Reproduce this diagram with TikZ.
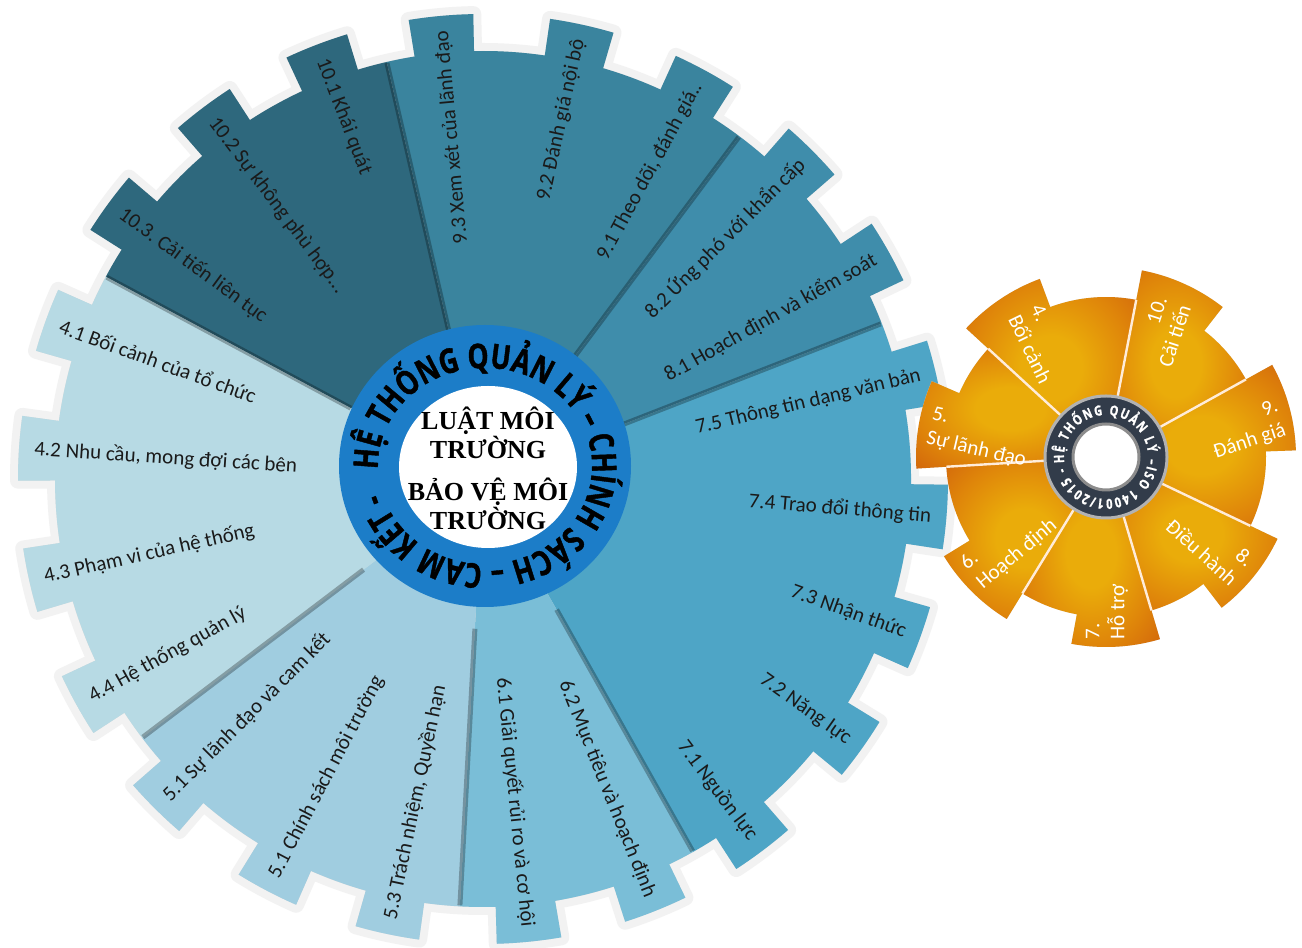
\documentclass[tikz,border=0pt]{standalone}
\usepackage{fontspec}
\setmainfont{Carlito}
\newfontfamily\lawfont{Liberation Serif}
\newfontfamily\ringfont{Open Sans}[FakeStretch=0.78, FakeBold=1.2]
\usetikzlibrary{calc,decorations.text}
\frenchspacing

\definecolor{cten}{HTML}{2E687D}
\definecolor{cnine}{HTML}{3A849E}
\definecolor{ceight}{HTML}{3F8DAB}
\definecolor{cseven}{HTML}{4EA5C6}
\definecolor{csix}{HTML}{7ABED7}
\definecolor{cfive}{HTML}{A0CDE0}
\definecolor{cfour}{HTML}{B7DAE4}
\definecolor{ringblue}{HTML}{1C7DC8}
\definecolor{orangedark}{HTML}{CF5F0C}
\definecolor{orangemid}{HTML}{DF850A}
\definecolor{orangelight}{HTML}{EAAC0A}
\definecolor{ringdark}{HTML}{323C4A}
\definecolor{labeltext}{HTML}{1A1A1A}

\pgfdeclareradialshading{goldglow}{\pgfpoint{0bp}{0bp}}{color(0bp)=(orangelight); color(9bp)=(orangelight); color(24bp)=(orangemid); color(38bp)=(orangedark); color(50bp)=(orangedark)}

\def\bigteeth{77.7,61.5,95.2,44.9,29.3,13.3,-4.7,-20,-35.5,-53,-68.2,-84.3,-101.9,-117.7,-134.8,-150.9,-167.4,176.2,160,143.6,127,111}

\begin{document}
\begin{tikzpicture}[x=0.5pt, y=0.5pt,
    item/.style={font=\fontsize{10.5}{12}\selectfont, text=labeltext, inner sep=0pt},
    orangelbl/.style={font=\fontsize{10.5}{12.5}\selectfont, text=white, inner sep=0pt},
    rim/.style={black, opacity=.28, line width=2.5},
    halo/.style={black!5, line width=8, line join=round}]

\useasboundingbox (0,0) rectangle (1302,948);
\fill[white] (0,0) rectangle (1302,948);

\coordinate (G) at (483,469);
\coordinate (C) at (485,482);
\coordinate (S) at (1106,491);

% shadow of the big gear
\begin{scope}[shift={(4,-6)}]
  \draw[halo] (G) circle[radius=428];
  \foreach \ang in \bigteeth
    \draw[halo] ($(G)+(\ang+4:426)$) -- ($(G)+(\ang+4:465)$) arc[start angle=\ang+4, end angle=\ang-4, radius=465] -- ($(G)+(\ang-4:426)$);
  \fill[black!14] (G) circle[radius=428];
  \foreach \ang in \bigteeth
    \fill[black!14] ($(G)+(\ang+4:426)$) -- ($(G)+(\ang+4:465)$) arc[start angle=\ang+4, end angle=\ang-4, radius=465] -- ($(G)+(\ang-4:426)$) -- cycle;
\end{scope}

% clause groups
\foreach \a/\b/\col in {151.8/103/cten, 103/53.2/cnine, 53.2/21.3/ceight, 21.3/-60.6/cseven, -60.6/-93.1/csix, -93.1/-142.8/cfive, -142.8/-208.2/cfour}
  \fill[\col] (G) -- ($(G)+(\a:428)$) arc[start angle=\a, end angle=\b, radius=428] -- cycle;

% teeth
\foreach \ang/\col in {95.2/cnine, 77.7/cnine, 61.5/cnine, 44.9/ceight, 29.3/ceight,
    13.3/cseven, -4.7/cseven, -20/cseven, -35.5/cseven, -53/cseven, -68.2/csix, -84.3/csix,
    -101.9/cfive, -117.7/cfive, -134.8/cfive, -150.9/cfour, -167.4/cfour, 176.2/cfour, 160/cfour,
    143.6/cten, 127/cten, 111/cten}
  \fill[\col] ($(G)+(\ang+4:426)$) -- ($(G)+(\ang+4:465)$) arc[start angle=\ang+4, end angle=\ang-4, radius=465] -- ($(G)+(\ang-4:426)$) -- cycle;

\foreach \b in {151.8,103,53.2,21.3,-60.6,-93.1,-142.8}
  \draw[rim] ($(G)+(\b:150)$) -- ($(G)+(\b:427)$);

% labels, right half read outward
\foreach \ang/\txt [count=\i] in {95.2/{9.3 Xem xét của lãnh đạo}, 77.7/{9.2 Đánh giá nội bộ},
    61.5/{9.1 Theo dõi, đánh giá..}, 44.9/{8.2 Ứng phó với khẩn cấp}, 29.3/{8.1 Hoạch định và kiểm soát},
    13.3/{7.5 Thông tin dạng văn bản}, -4.7/{7.4 Trao đổi thông tin}, -20/{7.3 Nhận thức},
    -35.5/{7.2 Năng lực}, -53/{7.1 Nguồn lực}, -68.2/{6.2 Mục tiêu và hoạch định},
    -84.3/{6.1 Giải quyết rủi ro và cơ hội}}
  \node[item, anchor=east, rotate=\ang] (out\i) at ($(G)+(\ang:450)$) {\txt};

% labels, left half read inward
\foreach \ang/\txt [count=\i] in {-101.9/{5.3 Trách nhiệm, Quyền hạn}, -117.7/{5.1 Chính sách môi trường},
    -134.8/{5.1 Sự lãnh đạo và cam kết}, -150.9/{4.4 Hệ thống quản lý}, -167.4/{4.3 Phạm vi của hệ thống},
    176.2/{4.2 Nhu cầu, mong đợi các bên}, 160/{4.1 Bối cảnh của tổ chức},
    143.6/{10.3. Cải tiến liên tục}, 127/{10.2 Sự không phù hợp...}, 111/{10.1 Khái quát}}
  \node[item, anchor=west, rotate=\ang+180] (in\i) at ($(G)+(\ang:450)$) {\txt};

% centre ring
\fill[ringblue] (C) ellipse[x radius=146, y radius=141];
\fill[white] ($(C)+(3,-1)$) ellipse[x radius=89, y radius=81];
\path[decorate, decoration={text along path, text align={fit to path},
    text={|\ringfont\bfseries\fontsize{17}{17}\selectfont|HỆ THỐNG QUẢN LÝ – CHÍNH SÁCH – CAM KẾT -}}]
  ($(C)+(182:107 and 98)$) arc[start angle=182, end angle=-164, x radius=107, y radius=98];

\node[align=center, inner sep=0pt, font=\lawfont\bfseries\fontsize{13}{13.5}\selectfont] (lawa) at (488,515) {LUẬT MÔI\\TRƯỜNG};
\node[align=center, inner sep=0pt, font=\lawfont\bfseries\fontsize{13}{13.5}\selectfont] (lawb) at (488,444) {BẢO VỆ MÔI\\TRƯỜNG};

% small orange gear
\begin{scope}[shift={(3,-5)}]
  \foreach \a/\b in {137.4/79.1, 79.1/29, 29/-25.5, -25.5/-73.5, -73.5/-121.5, -121.5/-176.5, 183.5/137.4}
    \fill[black!14] (S) -- ($(S)+(\a:190)$) arc[start angle=\a, end angle=\a-27, radius=190] -- ($(S)+(\a-27:160)$) arc[start angle=\a-27, end angle=\b, radius=160] -- cycle;
\end{scope}
\foreach \a/\b in {137.4/79.1, 79.1/29, 29/-25.5, -25.5/-73.5, -73.5/-121.5, -121.5/-176.5, 183.5/137.4}
  \shade[shading=goldglow] (S) -- ($(S)+(\a:190)$) arc[start angle=\a, end angle=\a-27, radius=190] -- ($(S)+(\a-27:160)$) arc[start angle=\a-27, end angle=\b, radius=160] -- cycle;
\foreach \a in {137.4,79.1,29,-25.5,-73.5,-121.5,-176.5}
  \draw[orange!15!white, line width=1.2] (S) -- ($(S)+(\a:160)$);

\fill[ringdark] (S) circle[radius=61];
\draw[black!30, line width=1.5] (S) circle[radius=61];
\fill[white] (S) circle[radius=33];
\draw[black!45, line width=1.5] (S) circle[radius=33];
\path[decorate, decoration={text along path, text align={fit to path}, text color=white,
    text={|\ringfont\bfseries\fontsize{7}{7}\selectfont|HỆ THỐNG QUẢN LÝ –ISO 14001/2015 -}}]
  ($(S)+(188:42)$) arc[start angle=188, end angle=-165, radius=42];

\node[orangelbl, align=left, rotate=-64] (olbl4) at (1041,604) {4.\\Bối cảnh};
\node[orangelbl, align=right, rotate=72] (olbl10) at (1163,616) {10.\\Cải tiến};
\node[orangelbl, align=right, rotate=18] (olbl9) at (1246,518) {9.\\Đánh giá};
\node[orangelbl, align=left, rotate=-13] (olbl5) at (979,510) {5.\\Sự lãnh đạo};
\node[orangelbl, align=left, rotate=40] (olbl6) at (1009,403) {6.\\Hoạch định};
\node[orangelbl, align=left, rotate=90] (olbl7) at (1107,336) {7.\\Hỗ trợ};
\node[orangelbl, align=right, rotate=-42] (olbl8) at (1210,405) {8.\\Điều hành};
\end{tikzpicture}
\end{document}
